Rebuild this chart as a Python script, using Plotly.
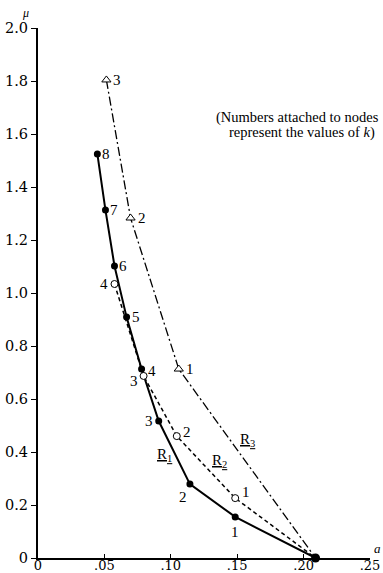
import plotly.graph_objects as go

# ---- data ----
# R1 (solid, filled circles), k = 8..1, then terminal point
r1_k = [8, 7, 6, 5, 4, 3, 2, 1]
r1_a = [0.0447, 0.0508, 0.0576, 0.0667, 0.0780, 0.0909, 0.1144, 0.1485]
r1_mu = [1.525, 1.313, 1.102, 0.909, 0.713, 0.517, 0.279, 0.155]

# R2 (dashed, open circles), k = 4..1
r2_k = [4, 3, 2, 1]
r2_a = [0.0576, 0.0795, 0.1045, 0.1485]
r2_mu = [1.034, 0.687, 0.460, 0.226]

# R3 (dash-dot, open triangles), k = 3..1
r3_k = [3, 2, 1]
r3_a = [0.0515, 0.0697, 0.1060]
r3_mu = [1.804, 1.283, 0.713]

# common terminal node (mu = 0)
end_a = [0.209]
end_mu = [0.0]

y_ticks = [0, 0.2, 0.4, 0.6, 0.8, 1.0, 1.2, 1.4, 1.6, 1.8, 2.0]
y_tick_text = ["0", "0.2", "0.4", "0.6", "0.8", "1.0", "1.2", "1.4", "1.6", "1.8", "2.0"]
x_ticks = [0, 0.05, 0.10, 0.15, 0.20, 0.25]
x_tick_text = ["0", ".05", ".10", ".15", ".20", ".25"]

note_lines = ["(Numbers attached to nodes", "represent the values of <i>k</i>)"]

# ---- styles / label offsets (pixels) ----
r1_off = [(9, 0), (9, 0), (9, 0), (9, 0), (10, 2), (-10, 0), (-7, 13), (0, 15)]
r2_off = [(-10, 0), (-10, 5), (10, -4), (11, -6)]
r3_off = [(11, 0), (11, 0), (11, 0)]

SERIF = "Liberation Serif"
TICKFONT = dict(family="DejaVu Serif", size=14.5, color="black")
fig = go.Figure()

fig.add_trace(go.Scatter(
    x=r3_a + end_a, y=r3_mu + end_mu, mode="lines",
    line=dict(color="black", width=1.3, dash="9px,3px,2px,3px"), hoverinfo="skip"))
fig.add_trace(go.Scatter(
    x=r2_a + end_a, y=r2_mu + end_mu, mode="lines",
    line=dict(color="black", width=1.5, dash="4px,3px"), hoverinfo="skip"))
fig.add_trace(go.Scatter(
    x=r1_a + end_a, y=r1_mu + end_mu, mode="lines",
    line=dict(color="black", width=2), hoverinfo="skip"))

fig.add_trace(go.Scatter(
    x=r3_a, y=r3_mu, mode="markers",
    marker=dict(symbol="triangle-up", size=8, color="white",
                line=dict(color="black", width=1))))
fig.add_trace(go.Scatter(
    x=r2_a, y=r2_mu, mode="markers",
    marker=dict(symbol="circle", size=7, color="white",
                line=dict(color="black", width=1))))
fig.add_trace(go.Scatter(
    x=r1_a, y=r1_mu, mode="markers",
    marker=dict(symbol="circle", size=7, color="black")))
fig.add_trace(go.Scatter(
    x=end_a, y=end_mu, mode="markers", cliponaxis=False,
    marker=dict(symbol="circle", size=9, color="black")))

anns = []
for ks, xs, ys, offs in [(r1_k, r1_a, r1_mu, r1_off),
                         (r2_k, r2_a, r2_mu, r2_off),
                         (r3_k, r3_a, r3_mu, r3_off)]:
    for k, xv, yv, (dx, dy) in zip(ks, xs, ys, offs):
        anns.append(dict(x=xv, y=yv, xref="x", yref="y", text=str(k),
                         showarrow=False, xshift=dx, yshift=-dy,
                         font=dict(family=SERIF, size=15, color="black")))

anns += [
    dict(x=0.0955, y=0.389, xref="x", yref="y", text="<u>R<sub>1</sub></u>",
         showarrow=False, font=dict(family=SERIF, size=15, color="black")),
    dict(x=0.137, y=0.366, xref="x", yref="y", text="<u>R<sub>2</sub></u>",
         showarrow=False, font=dict(family=SERIF, size=15, color="black")),
    dict(x=0.1576, y=0.445, xref="x", yref="y", text="<u>R<sub>3</sub></u>",
         showarrow=False, font=dict(family=SERIF, size=15, color="black")),
    dict(x=1.033, y=0.831, xref="paper", yref="paper", xanchor="right",
         yanchor="middle", text=note_lines[0], showarrow=False,
         font=dict(family=SERIF, size=14.5, color="black")),
    dict(x=1.02, y=0.802, xref="paper", yref="paper", xanchor="right",
         yanchor="middle", text=note_lines[1], showarrow=False,
         font=dict(family=SERIF, size=14.5, color="black")),
    dict(x=-0.039, y=1.028, xref="paper", yref="paper", xanchor="center",
         yanchor="middle", text="<i>μ</i>",
         showarrow=False, font=dict(family=SERIF, size=12, color="black")),
    dict(x=1.024, y=0.017, xref="paper", yref="paper", xanchor="center",
         yanchor="middle", text="<i>a</i>",
         showarrow=False, font=dict(family=SERIF, size=13, color="black")),
]

fig.update_layout(
    width=383, height=573,
    margin=dict(l=38, r=13, t=28, b=15),
    paper_bgcolor="white", plot_bgcolor="white",
    showlegend=False,
    annotations=anns,
    font=dict(family=SERIF, color="black"),
)
fig.update_xaxes(range=[0, 0.25], tickvals=x_ticks, ticktext=x_tick_text,
                 automargin=False, ticklabelstandoff=-6,
                 showgrid=False, zeroline=False, showline=True,
                 linecolor="black", linewidth=2, ticks="inside", ticklen=4,
                 tickcolor="black", tickfont=dict(family="DejaVu Serif", size=13, color="black"))
fig.update_yaxes(range=[0, 2.0], tickvals=y_ticks, ticktext=y_tick_text,
                 automargin=False,
                 showgrid=False, zeroline=False, showline=True,
                 linecolor="black", linewidth=2, ticks="outside", ticklen=5,
                 tickcolor="black", tickfont=TICKFONT)

fig.write_html("out.html", config={"displayModeBar": False},
               post_script="document.body.style.margin='0px';document.body.style.overflow='hidden';")
